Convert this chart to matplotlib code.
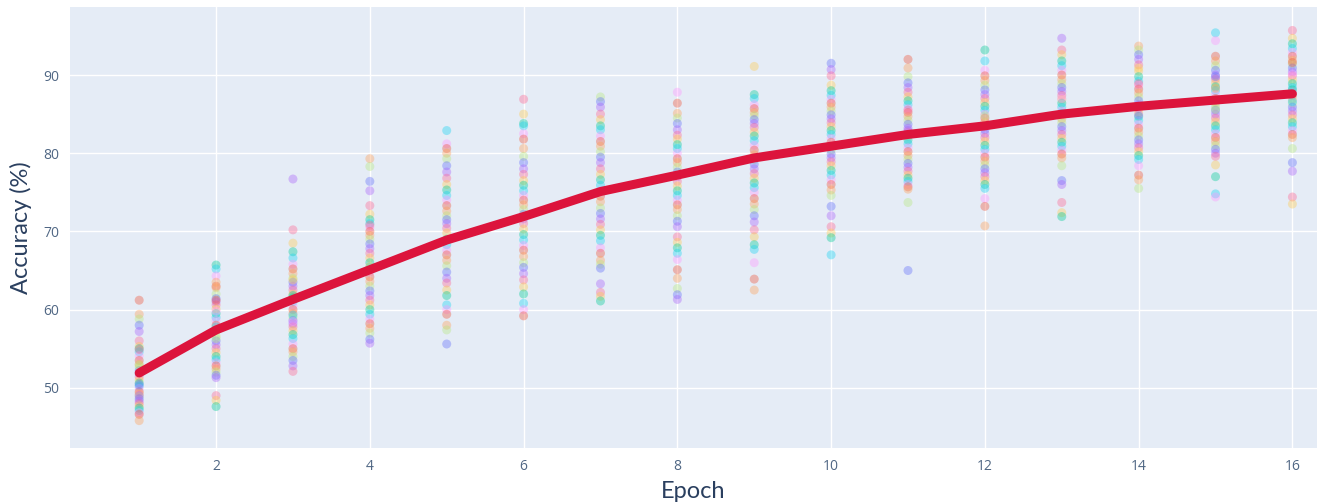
import numpy as np
import matplotlib.pyplot as plt

# epochs and mean accuracy (red line)
epochs = list(range(1, 17))
mean_acc = [51.9, 57.4, 61.3, 65.1, 68.9, 71.9, 75.1, 77.2, 79.4, 80.9, 82.4, 83.5, 85.0, 86.0, 86.8, 87.6]

# per-run accuracies, one list per epoch
acc_e1 = [61.2, 59.4, 58.8, 58.0, 57.2, 56.0, 55.3, 55.0, 54.6, 54.1, 53.5, 53.0, 52.6, 52.2, 51.8, 51.4, 51.0, 50.6,
          50.2, 49.9, 49.5, 49.2, 48.9, 48.6, 48.3, 48.0, 47.7, 47.4, 47.1, 46.8, 46.6, 45.8, 52.9, 50.4, 49.0, 54.9]
acc_e2 = [65.7, 65.2, 64.3, 63.0, 62.8, 62.0, 61.4, 61.0, 60.6, 60.1, 59.5, 59.0, 58.6, 58.0, 57.3, 56.6, 56.0, 55.5,
          55.0, 54.5, 54.0, 53.6, 53.2, 52.8, 52.4, 52.0, 51.6, 51.3, 49.0, 48.4, 47.6, 57.8, 59.8, 61.2, 63.5, 56.3]
acc_e3 = [76.7, 70.2, 68.5, 67.4, 66.6, 65.8, 65.2, 64.6, 64.0, 63.5, 63.0, 62.5, 62.0, 61.5, 61.0, 60.5, 60.0, 59.5,
          59.0, 58.6, 58.2, 57.8, 57.3, 56.8, 56.3, 55.6, 55.0, 54.6, 54.0, 53.5, 52.8, 52.1, 63.8, 61.8, 59.3, 58.5]
acc_e4 = [79.3, 78.3, 76.4, 75.2, 73.3, 72.2, 71.5, 71.0, 70.5, 70.0, 69.5, 69.0, 68.4, 67.8, 67.2, 66.6, 66.0, 65.4,
          64.8, 64.2, 63.6, 63.0, 62.4, 61.8, 61.2, 60.6, 60.0, 59.4, 58.8, 58.2, 57.6, 57.0, 56.2, 55.7, 70.8, 65.5]
acc_e5 = [82.9, 81.2, 80.6, 80.0, 79.3, 78.4, 77.6, 76.8, 76.0, 75.3, 74.6, 74.0, 73.3, 72.6, 72.0, 71.5, 71.0, 70.4,
          69.8, 69.0, 68.3, 67.6, 67.0, 66.3, 65.6, 64.8, 64.0, 63.4, 62.5, 61.8, 60.6, 60.0, 59.4, 58.0, 57.4, 55.6]
acc_e6 = [86.9, 85.0, 83.8, 83.5, 82.5, 81.8, 80.6, 79.6, 78.8, 78.0, 77.3, 76.5, 75.9, 75.2, 74.6, 74.0, 73.4, 72.8,
          72.2, 71.6, 71.0, 70.3, 69.6, 68.9, 68.2, 67.6, 66.8, 66.0, 65.4, 64.6, 63.8, 62.9, 62.0, 60.8, 60.0, 59.2]
acc_e7 = [87.2, 86.6, 85.9, 85.0, 84.3, 83.5, 83.0, 82.2, 81.5, 80.9, 80.2, 79.5, 78.8, 78.0, 77.3, 76.6, 75.9, 75.2,
          74.5, 73.8, 73.0, 72.3, 71.6, 70.9, 70.2, 69.5, 68.8, 67.9, 67.2, 66.3, 65.8, 65.3, 63.3, 62.2, 61.7, 61.1]
acc_e8 = [87.8, 86.4, 85.1, 84.5, 83.8, 83.0, 82.3, 81.8, 81.1, 80.6, 80.0, 79.3, 78.8, 78.2, 77.6, 77.0, 76.4, 75.8,
          75.2, 74.6, 74.0, 73.4, 72.8, 72.0, 71.3, 70.6, 69.3, 68.6, 67.9, 67.2, 66.4, 65.1, 64.0, 62.7, 61.9, 61.3]
acc_e9 = [91.1, 87.5, 87.0, 86.2, 85.7, 85.2, 84.8, 84.3, 83.8, 83.3, 82.7, 82.2, 81.6, 81.0, 80.4, 79.8, 79.2, 78.6,
          78.0, 77.4, 76.8, 76.2, 75.6, 75.0, 74.2, 73.5, 72.8, 72.0, 71.2, 70.2, 69.3, 68.3, 67.7, 66.0, 63.9, 62.5]
acc_e10 = [91.5, 90.7, 89.9, 88.7, 88.0, 87.4, 86.9, 86.4, 85.9, 85.4, 84.9, 84.4, 83.9, 83.4, 82.9, 82.4, 81.9, 81.4,
           80.9, 80.4, 79.9, 79.4, 78.9, 78.4, 77.8, 77.2, 76.6, 76.0, 75.3, 74.6, 73.2, 72.0, 70.6, 69.8, 69.2, 67.0]
acc_e11 = [92.0, 90.9, 89.8, 89.0, 88.4, 87.8, 87.2, 86.7, 86.2, 85.7, 85.2, 84.7, 84.2, 83.7, 83.2, 82.7, 82.2, 81.7,
           81.2, 80.7, 80.2, 79.7, 79.2, 78.7, 78.2, 77.7, 77.2, 76.8, 76.4, 76.0, 75.7, 75.4, 73.7, 65.0, 82.9, 85.5]
acc_e12 = [93.2, 91.8, 90.6, 89.9, 89.3, 88.7, 88.1, 87.5, 87.0, 86.5, 86.0, 85.5, 85.0, 84.5, 84.0, 83.5, 83.0, 82.5,
           82.0, 81.5, 81.0, 80.5, 80.0, 79.5, 79.0, 78.5, 78.0, 77.5, 77.0, 76.5, 76.0, 75.5, 74.2, 73.2, 70.7, 84.8]
acc_e13 = [94.7, 93.2, 92.6, 91.8, 91.2, 90.6, 90.0, 89.4, 88.9, 88.4, 87.9, 87.4, 86.9, 86.4, 85.9, 85.4, 84.9, 84.4,
           83.9, 83.4, 82.9, 82.4, 81.9, 81.4, 80.9, 80.4, 79.9, 79.4, 78.4, 76.5, 76.0, 73.7, 72.4, 71.9, 85.1, 87.0]
acc_e14 = [93.7, 93.2, 92.6, 92.0, 91.3, 90.5, 89.8, 89.2, 88.7, 88.2, 87.7, 87.2, 86.7, 86.2, 85.7, 85.2, 84.7, 84.2,
           83.7, 83.2, 82.7, 82.2, 81.7, 81.2, 80.7, 80.2, 79.7, 79.2, 78.4, 77.2, 76.6, 75.5, 86.0, 84.9, 88.9, 90.9]
acc_e15 = [95.4, 94.4, 92.4, 91.8, 91.2, 90.6, 90.0, 89.5, 89.0, 88.5, 88.0, 87.5, 87.0, 86.5, 86.0, 85.5, 85.0, 84.5,
           84.0, 83.5, 83.0, 82.5, 82.0, 81.5, 81.0, 80.5, 80.0, 79.6, 78.5, 77.0, 74.8, 74.4, 86.8, 88.3, 85.6, 89.8]
acc_e16 = [95.7, 94.7, 94.0, 93.4, 92.9, 92.4, 91.9, 91.4, 90.9, 90.4, 89.9, 89.4, 88.9, 88.4, 87.9, 87.4, 86.9, 86.4,
           85.9, 85.4, 84.9, 84.4, 83.9, 83.4, 82.9, 82.4, 82.0, 80.6, 78.8, 77.7, 74.4, 73.5, 88.1, 86.6, 90.1, 91.6]

runs = [acc_e1, acc_e2, acc_e3, acc_e4, acc_e5, acc_e6, acc_e7, acc_e8,
        acc_e9, acc_e10, acc_e11, acc_e12, acc_e13, acc_e14, acc_e15, acc_e16]

# plotly default palette
palette = ['#636EFA', '#EF553B', '#00CC96', '#AB63FA', '#FFA15A',
           '#19D3F3', '#FF6692', '#B6E880', '#FF97FF', '#FECB52']

text_col = '#2a3f5f'

fig = plt.figure(figsize=(13.17, 5.04), dpi=100)
ax = fig.add_axes([70 / 1317, 1 - 448 / 504, 1 - 70 / 1317, 441 / 504])
ax.set_facecolor('#E5ECF6')

for ep, vals in zip(epochs, runs):
    cols = [palette[(i * 3 + ep) % len(palette)] for i in range(len(vals))]
    ax.scatter([ep] * len(vals), vals, s=42, c=cols, alpha=0.38, linewidths=0, zorder=2)

ax.plot(epochs, mean_acc, color='#DC143C', lw=6.5, solid_capstyle='round',
        solid_joinstyle='round', zorder=3)

ax.set_xlim(0.1, 16.32)
ax.set_ylim(42.3, 98.7)
ax.set_xticks(range(2, 17, 2))
ax.set_yticks(range(50, 91, 10))
ax.grid(color='white', lw=1.0, zorder=0)
ax.set_axisbelow(True)
for s in ax.spines.values():
    s.set_visible(False)
ax.tick_params(length=0, labelsize=10, labelcolor='#506784', pad=8)
for lab in ax.get_xticklabels() + ax.get_yticklabels():
    lab.set_family('Open Sans')

ax.set_xlabel('Epoch', fontsize=17, color=text_col, family='Lato', labelpad=5)
ax.set_ylabel('Accuracy (%)', fontsize=17, color=text_col, family='Lato', labelpad=8)

fig.savefig('out.png', dpi=100)
